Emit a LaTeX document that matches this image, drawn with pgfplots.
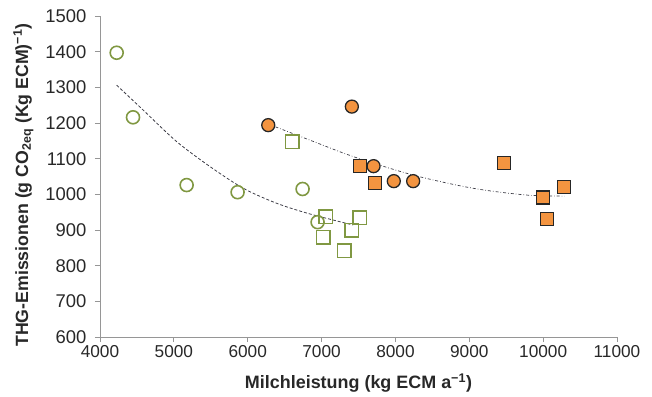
\documentclass[border=0pt]{standalone}
\usepackage{pgfplots}
\pgfplotsset{compat=1.18}
\usepackage{fontspec}
\setmainfont{Liberation Sans}
\definecolor{olivegr}{RGB}{128,152,66}
\definecolor{orng}{RGB}{243,148,64}
\definecolor{axgray}{RGB}{150,150,150}
\definecolor{txt}{RGB}{40,40,40}
\definecolor{trend}{RGB}{60,60,70}
\begin{document}
\begin{tikzpicture}
\begin{axis}[
  scale only axis, width=517bp, height=321bp,
  xmin=4000, xmax=11000, ymin=600, ymax=1500,
  xtick distance=1000, ytick distance=100,
  scaled ticks=false,
  axis lines*=left,
  axis line style={axgray, line width=0.8pt},
  tick style={axgray, line width=0.8pt},
  tick align=outside, major tick length=5bp,
  /pgf/number format/assume math mode=true,
  /pgf/number format/1000 sep={},
  xticklabel style={font=\fontsize{17.3}{19}\selectfont, text=txt},
  yticklabel style={font=\fontsize{18.5}{19}\selectfont, text=txt, xshift=-5bp},
  xlabel={\bfseries Milchleistung (kg ECM a\textsuperscript{−1})},
  ylabel={\bfseries THG-Emissionen (g CO\textsubscript{2eq} (Kg ECM)\textsuperscript{−1})},
  xlabel style={at={(axis description cs:0.5,-0.143)}, anchor=center, font=\fontsize{18}{19}\selectfont, text=txt},
  ylabel style={at={(axis description cs:-0.148,0.473)}, anchor=center, rotate=0, font=\fontsize{17.8}{19}\selectfont, text=txt},
  clip=false,
]
% trend lines
\addplot[trend, line width=0.8pt, densely dashed, smooth, no marks] coordinates {
 (4226,1306) (4586,1236) (5037,1148) (5488,1078) (5940,1017) (6391,975) (6842,945) (7428,914)
};
\addplot[trend, line width=0.7pt, dash dot, smooth, no marks] coordinates {
 (6278,1197) (6842,1152) (7428,1106) (8240,1054) (9051,1017) (9774,998) (10290,995)
};
% green open circles
\addplot[only marks, mark=o, mark size=6.5bp, olivegr, line width=1.6pt] coordinates {
 (4226,1397) (4447,1216) (5173,1026) (5863,1006) (6743,1015) (6946,922)
};
% green open squares
\addplot[only marks, mark=square, mark size=6.8bp, olivegr, line width=1.6pt] coordinates {
 (6602,1148) (7058,937) (7022,880) (7307,842) (7406,899) (7514,934)
};
% orange filled squares
\addplot[only marks, mark=square*, mark size=6.5bp, draw=black!85, fill=orng, line width=1.3pt] coordinates {
 (7518,1079) (7726,1032) (9467,1088) (9999,991) (10284,1021) (10053,930)
};
% orange filled circles
\addplot[only marks, mark=*, mark size=6.5bp, draw=black!85, fill=orng, line width=1.3pt] coordinates {
 (6278,1194) (7410,1246) (7704,1079) (7978,1037) (8240,1037)
};
\end{axis}
\pgfresetboundingbox
\path (-100bp,-60bp) rectangle (552bp,337bp);
\end{tikzpicture}
\end{document}
